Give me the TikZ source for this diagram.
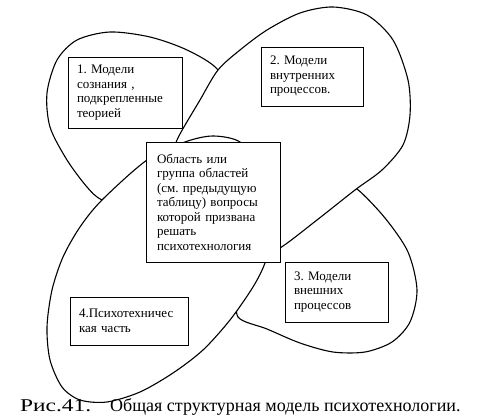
\documentclass[tikz,border=0pt]{standalone}
\usepackage{fontspec}
\setmainfont{Liberation Serif}
\frenchspacing
\tikzset{
  petal/.style={
      draw,
      fill=white,
      line width=1.1pt,
  },
  model/.style={
      draw,
      fill=white,
      line width=0.9pt,
      align=left,
      text width=#1,
      inner xsep=9pt,
      inner ysep=3pt,
      font=\fontsize{13}{14.5}\selectfont,
  }
}

\begin{document}
\begin{tikzpicture}[x=1pt,y=-1pt]
    \useasboundingbox (0,0) rectangle (485,419);
    % petals, lowest first
    \draw[petal] plot[smooth cycle] coordinates {(218,70) (187,50) (150,37) (110,32) (77,40) (57,60) (47,93) (50,127) (67,160) (87,187) (102,200) (140,215) (190,195) (225,150) (230,105)};
    \draw[petal] plot[smooth cycle] coordinates {(357,189) (385,218) (408,252) (417,290) (410,322) (392,342) (365,352) (333,352) (300,343) (267,329) (238,317) (240,290) (252,265) (268,238) (290,210) (315,192) (338,182)};
    \draw[petal] plot[smooth cycle] coordinates {(177,140) (200,100) (218,70) (240,50) (267,30) (300,13) (333,7) (367,15) (393,40) (408,80) (410,115) (403,145) (382,170) (355,190) (317,220) (280,248) (255,258) (225,245) (200,220) (183,185) (175,158)};
    \draw[petal] plot[smooth cycle] coordinates {(240,142) (213,136) (185,142) (147,160) (102,200) (80,227) (63,257) (52,290) (47,327) (50,360) (62,387) (80,400) (107,402) (140,392) (173,373) (203,350) (230,320) (253,287) (265,263) (272,235) (268,200) (257,166)};
    % boxes
    \node[model=96pt, minimum height=71pt] (m1) at (125,92.5) {1. Модели\\сознания ,\\подкрепленные\\теорией};
    \node[model=84pt, minimum height=59pt] (m2) at (312,76.5) {2. Модели\\внутренних\\процессов.};
    \node[model=112pt, minimum height=120pt, inner xsep=11pt] (area) at (213,202) {Область или\\группа областей\\(см. предыдущую\\таблицу) вопросы\\которой призвана\\решать\\психотехнология};
    \node[model=85pt, minimum height=60pt] (m3) at (336.5,292) {3. Модели\\внешних\\процессов};
    \node[model=100pt, minimum height=48pt, inner xsep=9pt] (m4) at (129,321) {4.Психотехничес\\кая часть};
    % caption
    \node[anchor=base west, inner sep=0pt, font=\fontsize{18}{20}\selectfont] (caption) at (20,412) {\makebox[90pt][l]{\scalebox{1.3}[1]{Рис.41.}}Общая структурная модель психотехнологии.};
\end{tikzpicture}
\end{document}
